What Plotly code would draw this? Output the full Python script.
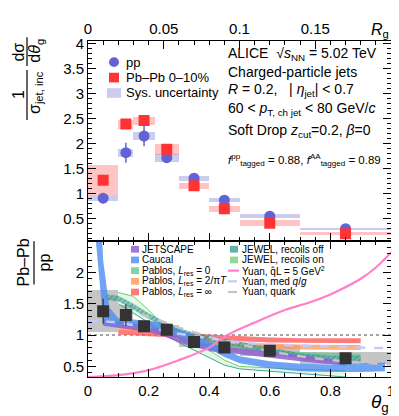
import plotly.graph_objects as go

# ---- data -------------------------------------------------------------
bin_lo = [0.0, 0.1, 0.15, 0.22, 0.3, 0.4, 0.5, 0.7]
bin_hi = [0.1, 0.15, 0.22, 0.3, 0.4, 0.5, 0.7, 1.0]
theta_c = [0.05, 0.125, 0.185, 0.26, 0.35, 0.45, 0.6, 0.85]

pp_val = [0.91, 1.82, 2.15, 1.72, 1.31, 0.87, 0.55, 0.30]
pp_stat = [0.1, 0.2, 0.2, 0.08, 0.04, 0.03, 0.02, 0.01]
pp_sys = [0.06, 0.08, 0.08, 0.08, 0.05, 0.045, 0.035, 0.02]

pbpb_val = [1.27, 2.39, 2.46, 1.89, 1.16, 0.70, 0.41, 0.20]
pbpb_stat = [0.05, 0.05, 0.05, 0.04, 0.03, 0.02, 0.02, 0.01]
pbpb_sys = [0.30, 0.09, 0.08, 0.11, 0.06, 0.06, 0.06, 0.025]

ratio_val = [1.38, 1.32, 1.14, 1.085, 0.89, 0.80, 0.75, 0.63]
ratio_stat = [0.2, 0.17, 0.06, 0.05, 0.04, 0.04, 0.04, 0.05]
ratio_sys = [0.34, 0.15, 0.07, 0.07, 0.08, 0.08, 0.09, 0.10]

# models (ratio panel)
jetscape_x = [0.05, 0.1, 0.15, 0.2, 0.25, 0.3, 0.35, 0.4, 0.5, 0.6, 0.7, 0.85]
jetscape_lo = [1.15, 1.11, 1.08, 1.05, 0.98, 0.88, 0.81, 0.75, 0.69, 0.64, 0.58, 0.51]
jetscape_hi = [1.25, 1.21, 1.18, 1.15, 1.08, 0.98, 0.91, 0.85, 0.79, 0.74, 0.68, 0.59]

caucal_x = [0.025, 0.045, 0.05, 0.07, 0.1, 0.15, 0.2, 0.25, 0.3, 0.35, 0.4, 0.45, 0.5, 0.6, 0.7, 0.8, 0.9, 0.98]
caucal_lo = [2.55, 1.5, 1.17, 1.16, 1.15, 1.14, 1.12, 1.06, 0.98, 0.88, 0.78, 0.65, 0.55, 0.47, 0.42, 0.41, 0.41, 0.42]
caucal_hi = [2.7, 2.7, 2.2, 1.45, 1.27, 1.25, 1.23, 1.19, 1.1, 1.0, 0.9, 0.78, 0.66, 0.58, 0.54, 0.53, 0.54, 0.56]

pablos_x = [0.1, 0.15, 0.2, 0.25, 0.3, 0.4, 0.5, 0.6, 0.7, 0.8, 0.9]
pablos0_lo = [1.17, 1.12, 1.07, 1.02, 0.95, 0.85, 0.77, 0.71, 0.67, 0.65, 0.64]
pablos0_hi = [1.23, 1.18, 1.13, 1.08, 1.01, 0.91, 0.83, 0.77, 0.73, 0.71, 0.70]
pablos2_lo = [1.08, 1.06, 1.04, 1.01, 0.96, 0.84, 0.8, 0.78, 0.77, 0.76, 0.76]
pablos2_hi = [1.16, 1.14, 1.12, 1.09, 1.04, 0.92, 0.88, 0.86, 0.85, 0.84, 0.84]
pablosinf_lo = [1.01, 1.0, 0.99, 0.97, 0.96, 0.93, 0.9, 0.88, 0.87, 0.87, 0.87]
pablosinf_hi = [1.09, 1.08, 1.07, 1.05, 1.04, 1.01, 0.98, 0.96, 0.95, 0.95, 0.95]

jewel_off_x = [0.06, 0.1, 0.15, 0.2, 0.25, 0.3, 0.35, 0.4, 0.5, 0.6, 0.7, 0.8, 0.9]
jewel_off_lo = [1.56, 1.54, 1.41, 1.26, 1.13, 1.02, 0.95, 0.9, 0.8, 0.71, 0.62, 0.58, 0.57]
jewel_off_hi = [1.65, 1.63, 1.5, 1.35, 1.22, 1.11, 1.04, 0.99, 0.89, 0.8, 0.71, 0.67, 0.67]

jewel_on_x = [0.1, 0.15, 0.2, 0.25, 0.3, 0.35, 0.4, 0.45, 0.5, 0.6, 0.7, 0.8, 0.85]
jewel_on_lo = [1.5, 1.35, 1.2, 1.02, 0.88, 0.76, 0.64, 0.52, 0.46, 0.42, 0.38, 0.35, 0.33]
jewel_on_hi = [1.68, 1.62, 1.4, 1.15, 0.98, 0.88, 0.76, 0.6, 0.5, 0.47, 0.45, 0.44, 0.43]

yuan_x = [0.0, 0.1, 0.2, 0.3, 0.4, 0.46, 0.55, 0.65, 0.73, 0.8, 0.9, 0.95, 1.0]
yuan_qhat = [0.33, 0.36, 0.44, 0.6, 0.8, 1.0, 1.2, 1.4, 1.52, 1.65, 1.9, 2.08, 2.32]
yuan_line_x = [0.0, 0.05, 0.1, 0.2, 0.3, 0.4, 0.5, 0.6, 0.7, 0.8, 0.9, 1.0]
yuan_medqg = [1.22, 1.22, 1.2, 1.12, 1.02, 0.95, 0.88, 0.85, 0.83, 0.81, 0.8, 0.79]
yuan_quark = [1.52, 1.47, 1.42, 1.3, 1.12, 0.97, 0.85, 0.74, 0.66, 0.6, 0.56, 0.53]

rg_per_theta = 0.2  # R_g = R * theta_g, jet radius R = 0.2
rg_ticks = [0, 0.05, 0.1, 0.15]
ratio_ticks = [0.5, 1, 1.5, 2]

FONT = "Liberation Sans, Arial, Helvetica, sans-serif"
PP_COL = "#6262d2"
PBPB_COL = "#ff3333"
PP_SYS_COL = "rgba(110,110,210,0.35)"
PBPB_SYS_COL = "rgba(255,90,90,0.35)"


def px_x(p):
    return (p - 80) / 303


def px_y(p):
    return (369 - p) / 349


def band(x, lo, hi, color, name, **kw):
    return go.Scatter(x=x + x[::-1], y=hi + lo[::-1], fill="toself", mode="lines",
                      line=dict(width=0), fillcolor=color, name=name,
                      showlegend=False, hoverinfo="skip", xaxis="x", yaxis="y", **kw)


fig = go.Figure()

# ---- upper panel --------------------------------------------------------
widths = [h - l for l, h in zip(bin_lo, bin_hi)]
fig.add_trace(go.Bar(x=theta_c, y=[2 * s for s in pbpb_sys],
                     base=[v - s for v, s in zip(pbpb_val, pbpb_sys)], width=widths,
                     marker=dict(color=PBPB_SYS_COL, line_width=0), xaxis="x2", yaxis="y2"))
fig.add_trace(go.Bar(x=theta_c, y=[2 * s for s in pp_sys],
                     base=[v - s for v, s in zip(pp_val, pp_sys)], width=widths,
                     marker=dict(color=PP_SYS_COL, line_width=0), xaxis="x2", yaxis="y2"))
fig.add_trace(go.Scatter(x=theta_c, y=pp_val, mode="markers", name="pp",
                         marker=dict(symbol="circle", size=11, color=PP_COL),
                         error_y=dict(type="data", array=pp_stat, color=PP_COL, thickness=1.5, width=0),
                         xaxis="x2", yaxis="y2"))
fig.add_trace(go.Scatter(x=theta_c, y=pbpb_val, mode="markers", name="Pb\u2013Pb 0\u201310%",
                         marker=dict(symbol="square", size=11, color=PBPB_COL),
                         error_y=dict(type="data", array=pbpb_stat, color=PBPB_COL, thickness=1.5, width=0),
                         xaxis="x2", yaxis="y2"))
# same points on the R_g scale (invisible), so the top axis gets drawn
fig.add_trace(go.Scatter(x=[t * rg_per_theta for t in theta_c], y=pp_val, mode="markers",
                         marker=dict(opacity=0), hoverinfo="skip", xaxis="x3", yaxis="y2"))

# ---- lower panel --------------------------------------------------------
fig.add_trace(go.Bar(x=theta_c, y=[2 * s for s in ratio_sys],
                     base=[v - s for v, s in zip(ratio_val, ratio_sys)], width=widths,
                     marker=dict(color="rgba(140,140,140,0.5)", line_width=0), xaxis="x", yaxis="y"))

fig.add_trace(band(jewel_on_x, jewel_on_lo, jewel_on_hi, "rgba(110,205,110,0.18)", "JEWEL, recoils on"))
fig.add_trace(go.Scatter(x=jewel_on_x, y=jewel_on_hi, mode="lines", line=dict(color="#6ccf6c", width=1),
                         xaxis="x", yaxis="y"))
fig.add_trace(go.Scatter(x=jewel_on_x, y=jewel_on_lo, mode="lines", line=dict(color="#3aa6a0", width=1),
                         xaxis="x", yaxis="y"))
fig.add_trace(band(pablos_x, pablosinf_lo, pablosinf_hi, "rgba(255,90,90,0.8)", "Pablos inf"))
fig.add_trace(band(pablos_x, pablos2_lo, pablos2_hi, "rgba(255,150,90,0.75)", "Pablos 2"))
fig.add_trace(band(pablos_x, pablos0_lo, pablos0_hi, "rgba(100,200,140,0.75)", "Pablos 0"))
fig.add_trace(band(jewel_off_x, jewel_off_lo, jewel_off_hi, "rgba(50,150,140,0.55)", "JEWEL, recoils off",
                   fillpattern=dict(shape="/", fgcolor="rgba(30,120,120,0.9)",
                                    bgcolor="rgba(60,160,150,0.55)", size=4, solidity=0.35)))
fig.add_trace(band(jetscape_x, jetscape_lo, jetscape_hi, "rgba(145,95,205,0.85)", "JETSCAPE"))
fig.add_trace(band(caucal_x, caucal_lo, caucal_hi, "rgba(75,140,240,0.8)", "Caucal"))

fig.add_trace(go.Scatter(x=yuan_line_x, y=yuan_quark, mode="lines",
                         line=dict(color="#c4c4c4", width=2.5, dash="dash"), xaxis="x", yaxis="y"))
fig.add_trace(go.Scatter(x=yuan_line_x, y=yuan_medqg, mode="lines",
                         line=dict(color="#c8c8ff", width=2.5, dash="dash"), xaxis="x", yaxis="y"))
fig.add_trace(go.Scatter(x=yuan_x, y=yuan_qhat, mode="lines", line_shape="spline",
                         line=dict(color="#ff7fc8", width=2.2), xaxis="x", yaxis="y"))

fig.add_trace(go.Scatter(x=theta_c, y=ratio_val, mode="markers",
                         marker=dict(symbol="square", size=12, color="#333333"),
                         error_y=dict(type="data", array=ratio_stat, color="#333333", thickness=1.2, width=0),
                         xaxis="x", yaxis="y"))

shapes = [dict(type="line", xref="x", yref="y", x0=0, x1=1, y0=1, y1=1,
               line=dict(color="#888888", width=1.5, dash="dot"), layer="below")]
annotations = []

# ---- legend of the spectra panel ---------------------------------------
shapes.append(dict(type="circle", xref="paper", yref="paper", x0=px_x(101), x1=px_x(111),
                   y0=px_y(47), y1=px_y(37), fillcolor=PP_COL, line_width=0))
shapes.append(dict(type="rect", xref="paper", yref="paper", x0=px_x(101), x1=px_x(111),
                   y0=px_y(63), y1=px_y(53), fillcolor=PBPB_COL, line_width=0))
shapes.append(dict(type="rect", xref="paper", yref="paper", x0=px_x(99), x1=px_x(113),
                   y0=px_y(79), y1=px_y(69), fillcolor=PP_SYS_COL, line_width=0))
for txt, y in [("pp", 42), ("Pb\u2013Pb 0\u201310%", 58), ("Sys. uncertainty", 74)]:
    annotations.append(dict(x=px_x(116), y=px_y(y), xref="paper", yref="paper", text=txt,
                            showarrow=False, xanchor="left", yanchor="middle",
                            font=dict(size=13, color="black")))

# ---- legend of the model panel -----------------------------------------
rows = [236.3, 247.4, 258.5, 269.6, 280.7]
left_items = [("JETSCAPE", "rgba(145,95,205,0.85)"),
              ("Caucal", "rgba(75,140,240,0.8)"),
              ("Pablos, <i>L</i><sub>res</sub> = 0", "rgba(100,200,140,0.8)"),
              ("Pablos, <i>L</i><sub>res</sub> = 2/\u03c0<i>T</i>", "rgba(255,150,90,0.8)"),
              ("Pablos, <i>L</i><sub>res</sub> = \u221e", "rgba(255,90,90,0.8)")]
right_items = [("JEWEL, recoils off", "box", "rgba(50,150,140,0.75)", None),
               ("JEWEL, recoils on", "box", "rgba(110,205,110,0.75)", None),
               ("Yuan, q\u0302L = 5 GeV<sup>2</sup>", "line", "#ff7fc8", "solid"),
               ("Yuan, med <i>q</i>/<i>g</i>", "line", "#c8c8ff", "dash"),
               ("Yuan, quark", "line", "#c4c4c4", "dash")]
for r, (txt, col) in zip(rows, left_items):
    shapes.append(dict(type="rect", xref="paper", yref="paper", x0=px_x(123), x1=px_x(131),
                       y0=px_y(r + 3.5), y1=px_y(r - 3.5), fillcolor=col, line_width=0))
    annotations.append(dict(x=px_x(132), y=px_y(r), xref="paper", yref="paper", text=txt,
                            showarrow=False, xanchor="left", yanchor="middle",
                            font=dict(size=10, color="black")))
for r, (txt, kind, col, dash) in zip(rows, right_items):
    if kind == "box":
        shapes.append(dict(type="rect", xref="paper", yref="paper", x0=px_x(222), x1=px_x(230),
                           y0=px_y(r + 3.5), y1=px_y(r - 3.5), fillcolor=col, line_width=0))
    else:
        shapes.append(dict(type="line", xref="paper", yref="paper", x0=px_x(220), x1=px_x(231),
                           y0=px_y(r), y1=px_y(r), line=dict(color=col, width=2.2, dash=dash)))
    annotations.append(dict(x=px_x(232), y=px_y(r), xref="paper", yref="paper", text=txt,
                            showarrow=False, xanchor="left", yanchor="middle",
                            font=dict(size=10, color="black")))

# ---- text block ---------------------------------------------------------
info = [("ALICE  \u221a<i>s</i><sub>NN</sub> = 5.02 TeV", 34, 14),
        ("Charged-particle jets", 52, 14),
        ("<i>R</i> = 0.2,   | <i>\u03b7</i><sub>jet</sub>| < 0.7", 71, 14),
        ("60 < <i>p</i><sub>T, ch jet</sub> < 80 GeV/<i>c</i>", 91, 14),
        ("Soft Drop <i>z</i><sub>cut</sub>=0.2, <i>\u03b2</i>=0", 113, 14),
        ("<i>f</i><sup>pp</sup><sub>tagged</sub> = 0.88, <i>f</i><sup>AA</sup><sub>tagged</sub> = 0.89", 144, 11.5)]
for txt, y, sz in info:
    annotations.append(dict(x=px_x(218), y=px_y(y), xref="paper", yref="paper", text=txt,
                            showarrow=False, xanchor="left", yanchor="middle",
                            font=dict(size=sz, color="black")))

# axis titles built as stacked fractions
frac = [("1", 11, 76), ("\u03c3<sub>jet, inc</sub>", 28, 74),
        ("d\u03c3", 11, 32), ("d<i>\u03b8</i><sub>g</sub>", 28, 30),
        ("Pb\u2013Pb", 15, 250), ("pp", 36, 250)]
for txt, x, y in frac:
    annotations.append(dict(x=px_x(x), y=px_y(y), xref="paper", yref="paper", text=txt,
                            textangle=-90, showarrow=False, xanchor="center", yanchor="middle",
                            font=dict(size=16, color="black")))
for x, y0, y1 in [(19, 50, 102), (19, 16, 46), (26, 228, 273)]:
    shapes.append(dict(type="line", xref="paper", yref="paper", x0=px_x(x), x1=px_x(x),
                       y0=px_y(y0), y1=px_y(y1), line=dict(color="black", width=1.2)))

annotations.append(dict(x=1.0, y=px_y(396), xref="paper", yref="paper",
                        text="<i>\u03b8</i><sub>g</sub>", showarrow=False,
                        xanchor="right", yanchor="middle", font=dict(size=19, color="black")))
annotations.append(dict(x=1.0, y=px_y(9), xref="paper", yref="paper",
                        text="<i>R</i><sub>g</sub>", showarrow=False,
                        xanchor="right", yanchor="middle", font=dict(size=16, color="black")))

# ---- layout -------------------------------------------------------------
split = px_y(228)
common = dict(showgrid=False, zeroline=False, showline=True, linecolor="black", linewidth=1,
              ticks="inside", ticklen=8, tickcolor="black", tickfont=dict(size=15, color="black"))

fig.update_layout(
    width=399, height=416,
    margin=dict(l=80, r=16, t=20, b=47),
    paper_bgcolor="white", plot_bgcolor="white",
    font=dict(family=FONT, color="black"),
    barmode="overlay", bargap=0,
    shapes=shapes, annotations=annotations,
    showlegend=False,
    xaxis=dict(common, domain=[0, 1], anchor="y", range=[0, 1], dtick=0.2, tick0=0,
               mirror="ticks", minor=dict(ticks="inside", ticklen=4, dtick=0.05, tick0=0)),
    yaxis=dict(common, domain=[0, split], anchor="x", range=[0.33, 2.5],
               tickmode="array", tickvals=ratio_ticks, ticktext=[str(v) for v in ratio_ticks],
               mirror="ticks",
               minor=dict(ticks="inside", ticklen=4, tickmode="linear", dtick=0.1, tick0=0)),
    xaxis2=dict(common, domain=[0, 1], anchor="y2", range=[0, 1], dtick=0.2, tick0=0,
                showticklabels=False, mirror=True,
                minor=dict(ticks="inside", ticklen=4, dtick=0.05, tick0=0)),
    yaxis2=dict(common, domain=[split, 1], anchor="x2", range=[0.05, 4.05], dtick=0.5, tick0=0,
                mirror="ticks", minor=dict(ticks="inside", ticklen=4, dtick=0.1, tick0=0)),
    xaxis3=dict(common, overlaying="x2", anchor="y2", side="top", range=[0, 0.2],
                tickmode="array", tickvals=rg_ticks, ticktext=[str(v) for v in rg_ticks],
                minor=dict(ticks="inside", ticklen=4, tickmode="linear", dtick=0.01, tick0=0)),
)

fig.write_html("out.html")
